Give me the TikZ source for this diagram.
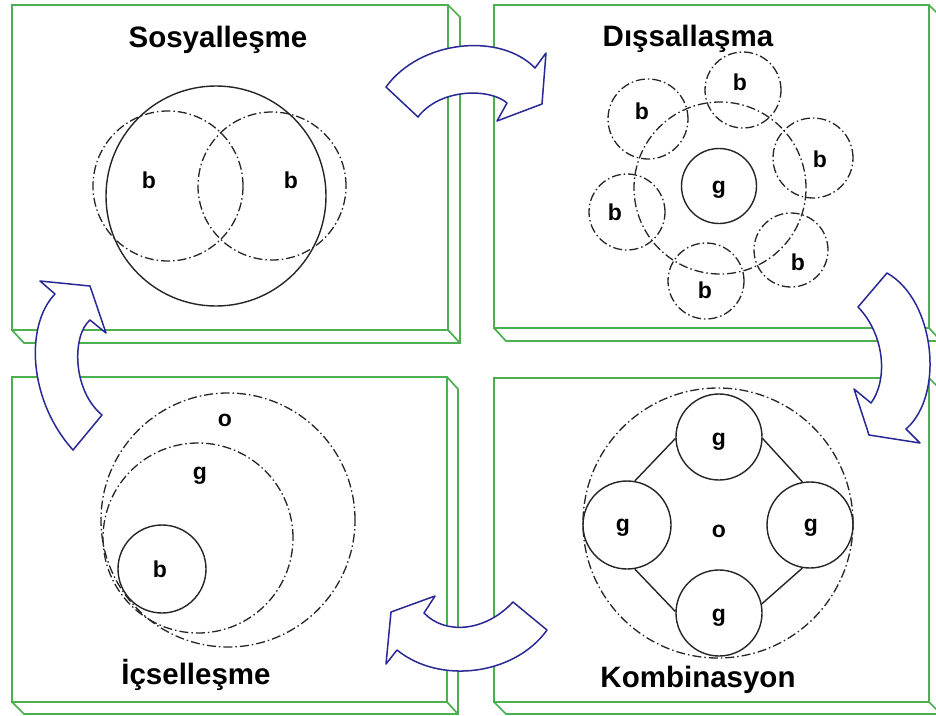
\documentclass[tikz,border=0pt]{standalone}
\usepackage{fontspec}
\setmainfont{Liberation Sans}
\definecolor{panelgreen}{RGB}{76,175,80}
\definecolor{arrowblue}{RGB}{40,40,150}
\tikzset{
  panel/.style={draw=panelgreen, line width=1.7pt, line join=miter},
  ddot/.style={draw=black!85, line width=1.3pt, dash pattern=on 9pt off 3pt on 1.5pt off 3pt},
  solidc/.style={draw=black!85, line width=1.4pt},
  ring/.style={circle, draw=black!85, line width=1.4pt, inner sep=0pt},
  title/.style={font=\fontsize{29.5}{31}\selectfont\bfseries, anchor=base},
  lbl/.style={font=\fontsize{23}{24}\selectfont\bfseries, anchor=base},
  bigarrow/.style={draw=arrowblue, line width=1.5pt, fill=white, line join=round}
}
\begin{document}
\begin{tikzpicture}[x=1pt,y=-1pt]
\useasboundingbox (0,0) rectangle (936,715);
\clip (0,0) rectangle (936,715);
\fill[white] (0,0) rectangle (936,715);

% ---- panels ----
% top-left
\draw[panel] (12,5) rectangle (448,330);
\draw[panel] (448,5) -- (460,17) -- (460,343) -- (24,343) -- (12,330);
\draw[panel] (448,330) -- (460,343);
% top-right
\draw[panel] (494,5) rectangle (929,328);
\draw[panel] (929,5) -- (941,17) -- (941,341) -- (506,341) -- (494,328);
\draw[panel] (929,328) -- (941,341);
% bottom-left
\draw[panel] (12,377) rectangle (447,702);
\draw[panel] (447,377) -- (458,389) -- (458,714) -- (24,714) -- (12,702);
\draw[panel] (447,702) -- (458,714);
% bottom-right
\draw[panel] (494,378) rectangle (929,702);
\draw[panel] (929,378) -- (941,390) -- (941,714) -- (506,714) -- (494,702);
\draw[panel] (929,702) -- (941,714);

% ---- Sosyallesme ----
\node[title] (t1) at (218,47) {Sosyalleşme};
\draw[solidc] (216,196) circle[radius=110pt];
\draw[ddot] (168,186) circle[radius=75pt];
\draw[ddot] (272,186) circle[radius=74pt];
\node[lbl] (s1) at (149,188) {b};
\node[lbl] (s2) at (291,188) {b};

% ---- Dissallasma ----
\node[title] (t2) at (688,46) {Dışsallaşma};
\draw[ddot] (720,188) circle[radius=86pt];
\draw[solidc] (719,186) circle[radius=37.5pt];
\draw[ddot] (743,90) circle[radius=38pt];
\draw[ddot] (648,119) circle[radius=40pt];
\draw[ddot] (813,158) circle[radius=40pt];
\draw[ddot] (627,212) circle[radius=38pt];
\draw[ddot] (791,250) circle[radius=37pt];
\draw[ddot] (706,281) circle[radius=38pt];
\node[lbl] (d0) at (719,193) {g};
\node[lbl] (d1) at (740,90) {b};
\node[lbl] (d2) at (642,119) {b};
\node[lbl] (d3) at (820,167) {b};
\node[lbl] (d4) at (615,220) {b};
\node[lbl] (d5) at (798,270) {b};
\node[lbl] (d6) at (705,298) {b};

% ---- Icsellesme ----
\node[title] (t3) at (196,684) {İçselleşme};
\draw[ddot] (228,520) circle[radius=127pt];
\draw[ddot] (198,538) circle[radius=95pt];
\draw[solidc] (162,569) circle[radius=44pt];
\node[lbl] (i1) at (225,426) {o};
\node[lbl] (i2) at (200,479) {g};
\node[lbl] (i3) at (160,577) {b};

% ---- Kombinasyon ----
\node[title] (t4) at (698,687) {Kombinasyon};
\draw[ddot] (718,523) circle[radius=135pt];
\node[ring, minimum size=86pt] (gt) at (719,437) {};
\node[ring, minimum size=88pt] (gl) at (627,525) {};
\node[ring, minimum size=86pt] (gr) at (810,525) {};
\node[ring, minimum size=86pt] (gb) at (719,613) {};
\draw[solidc] (gt.182) -- (gl.80);
\draw[solidc] (gt.-2) -- (gr.100);
\draw[solidc] (gl.-80) -- (gb.178);
\draw[solidc] (gr.-100) -- (gb.12);
\node[lbl] (k1) at (719,445) {g};
\node[lbl] (k2) at (623,531) {g};
\node[lbl] (k3) at (811,531) {g};
\node[lbl] (k4) at (719,621) {g};
\node[lbl] (k0) at (719,537) {o};

% ---- curved arrows ----
% top
\draw[bigarrow] (386,87) .. controls (420,40) and (500,32) .. (535,68)
  -- (546,53) -- (542,104) -- (497,121) -- (507,103)
  .. controls (490,88) and (440,88) .. (418,117) -- cycle;
% right
\draw[bigarrow] (887,273) .. controls (935,300) and (945,395) .. (906,429)
  -- (920,443) -- (869,435) -- (854,389) -- (871,403)
  .. controls (888,380) and (885,335) .. (858,307) -- cycle;
% bottom
\draw[bigarrow] (547,630) .. controls (515,675) and (440,685) .. (397,650)
  -- (386,664) -- (391,612) -- (435,596) -- (424,613)
  .. controls (445,635) and (485,632) .. (513,602) -- cycle;
% left
\draw[bigarrow] (73,450) .. controls (28,400) and (25,325) .. (55,294)
  -- (40,281) -- (90,286) -- (106,333) -- (90,320)
  .. controls (72,335) and (72,390) .. (102,415) -- cycle;
\end{tikzpicture}
\end{document}
